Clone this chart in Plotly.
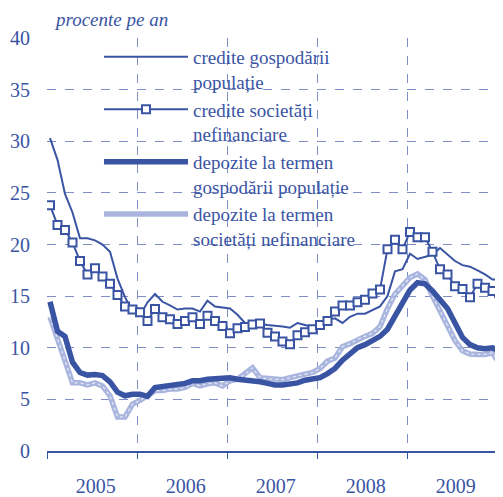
import plotly.graph_objects as go

# monthly index: 0 = Jan 2005 ... 60
months = list(range(61))
years = ["2005", "2006", "2007", "2008", "2009"]

credite_gosp = [30.3, 28.2, 24.9, 23.1, 20.6, 20.6, 20.4, 20.0, 19.3, 16.7,
                14.9, 13.5, 13.1, 14.4, 15.2, 14.45, 14.1, 13.7, 13.8, 13.8,
                13.5, 14.55, 14.0, 13.9, 13.8, 13.2, 12.4, 12.3, 12.3, 12.2,
                12.15, 12.05, 11.95, 12.4, 12.2, 12.0, 12.3, 12.7, 12.85, 12.4,
                13.0, 13.3, 13.3, 13.65, 14.0, 15.0, 17.4, 17.6, 19.1, 18.6,
                18.8, 19.0, 19.65, 19.05, 18.4, 18.0, 17.85, 17.5, 17.1, 16.6,
                16.6]

credite_soc = [23.8, 21.9, 21.4, 20.2, 18.4, 17.1, 17.7, 16.9, 16.2, 15.1,
               14.0, 13.7, 13.45, 12.6, 13.75, 12.95, 12.76, 12.3, 12.6, 12.95,
               12.3, 13.1, 12.6, 12.1, 11.4, 11.9, 12.0, 12.25, 12.35, 11.45,
               11.1, 10.6, 10.35, 11.2, 11.5, 11.8, 12.2, 12.6, 13.5, 14.1,
               14.1, 14.4, 14.65, 15.25, 15.65, 19.55, 20.45, 19.55, 21.2, 20.7,
               20.7, 19.3, 17.6, 17.1, 15.95, 15.7, 14.9, 16.2, 15.8, 15.5,
               13.9]

depozite_gosp = [14.45, 11.6, 11.1, 8.6, 7.6, 7.35, 7.4, 7.3, 6.7, 5.7,
                 5.35, 5.5, 5.5, 5.3, 6.15, 6.25, 6.4, 6.4, 6.55, 6.8,
                 6.8, 6.95, 7.0, 7.1, 7.1, 6.95, 6.9, 6.8, 6.7, 6.55,
                 6.4, 6.4, 6.5, 6.6, 6.85, 6.95, 7.1, 7.5, 8.0, 8.8,
                 9.35, 10.0, 10.3, 10.7, 11.1, 11.8, 13.1, 14.5, 15.6, 16.3,
                 16.2, 15.5, 14.6, 13.8, 12.4, 11.0, 10.3, 10.0, 9.9, 10.0,
                 9.65]

depozite_soc = [13.0, 10.9, 8.6, 6.6, 6.6, 6.4, 6.6, 6.3, 5.35, 3.3,
                3.3, 4.55, 4.9, 5.35, 5.85, 5.85, 6.0, 6.0, 6.15, 6.55,
                6.3, 6.5, 6.6, 6.3, 6.8, 6.95, 7.45, 8.05, 7.1, 7.0,
                6.95, 6.9, 7.1, 7.25, 7.45, 7.6, 8.0, 8.7, 9.0, 10.1,
                10.4, 10.8, 11.1, 11.4, 12.05, 13.8, 15.2, 16.0, 16.8, 17.15,
                16.6, 15.0, 13.6, 12.2, 10.7, 9.7, 9.4, 9.35, 9.35, 9.5,
                8.4]

names = ["credite gospodării<br>populație",
         "credite societăți<br>nefinanciare",
         "depozite la termen<br>gospodării populație",
         "depozite la termen<br>societăți nefinanciare"]

BLUE = "#3a54a4"
GRID = "#7f8fc6"
FONT = "Liberation Serif, Times New Roman, serif"

fig = go.Figure()
fig.add_trace(go.Scatter(x=months, y=depozite_soc, mode="lines", name=names[3],
                         legendrank=4,
                         line=dict(color="#a9b5de", width=5.5)))
fig.add_trace(go.Scatter(x=months, y=depozite_soc, mode="lines", showlegend=False,
                         hoverinfo="skip",
                         line=dict(color="rgba(255,255,255,0.7)", width=1.2, dash="dot")))
fig.add_trace(go.Scatter(x=months, y=depozite_gosp, mode="lines", name=names[2],
                         legendrank=3,
                         line=dict(color=BLUE, width=5.5)))
fig.add_trace(go.Scatter(x=months, y=credite_gosp, mode="lines", name=names[0],
                         legendrank=1,
                         line=dict(color=BLUE, width=2)))
fig.add_trace(go.Scatter(x=months, y=credite_soc, mode="lines+markers", name=names[1],
                         legendrank=2,
                         line=dict(color=BLUE, width=2),
                         marker=dict(symbol="square", size=8, color="white",
                                     line=dict(color=BLUE, width=2))))

fig.add_shape(type="rect", xref="paper", yref="paper",
              x0=0.07, x1=0.77, y0=0.49, y1=0.99,
              fillcolor="white", line=dict(width=0), layer="between")

fig.add_annotation(text="procente pe an", xref="paper", yref="paper",
                   x=0.01, y=1.045, xanchor="left", yanchor="middle",
                   showarrow=False,
                   font=dict(family=FONT, size=19, color=BLUE, style="italic"))

# the page body has an 8px margin: the figure is sized/shifted to compensate
fig.update_layout(
    width=495, height=489,
    margin=dict(l=39, r=0, t=30, b=41),
    plot_bgcolor="white", paper_bgcolor="white",
    font=dict(family=FONT, size=20, color=BLUE),
    legend=dict(x=0.114, y=1.0, xanchor="left", yanchor="top",
                traceorder="normal", valign="top", itemwidth=84,
                bgcolor="rgba(0,0,0,0)", tracegroupgap=0,
                font=dict(family=FONT, size=19, color=BLUE)),
    showlegend=True,
)
fig.update_xaxes(
    range=[-0.4, 60.4],
    tickmode="array", tickvals=[6.1 + 12 * k for k in range(5)], ticktext=years,
    ticks="", showgrid=False, zeroline=False,
    showline=True, linecolor=BLUE, linewidth=1.5,
    ticklabelstandoff=16,
    tickfont=dict(family=FONT, size=20, color=BLUE),
    minor=dict(tick0=-0.4, dtick=12, showgrid=True, gridcolor=GRID,
               griddash="dash", gridwidth=1.2, ticks="outside", ticklen=6,
               tickcolor=BLUE, tickwidth=1.2),
)
fig.update_yaxes(
    range=[0, 40], dtick=5, showgrid=True, gridcolor=GRID, griddash="dash",
    gridwidth=1.2, zeroline=False, showline=False, ticks="",
    ticklabelstandoff=16,
    tickfont=dict(family=FONT, size=20, color=BLUE),
)

fig.write_html("out.html")
